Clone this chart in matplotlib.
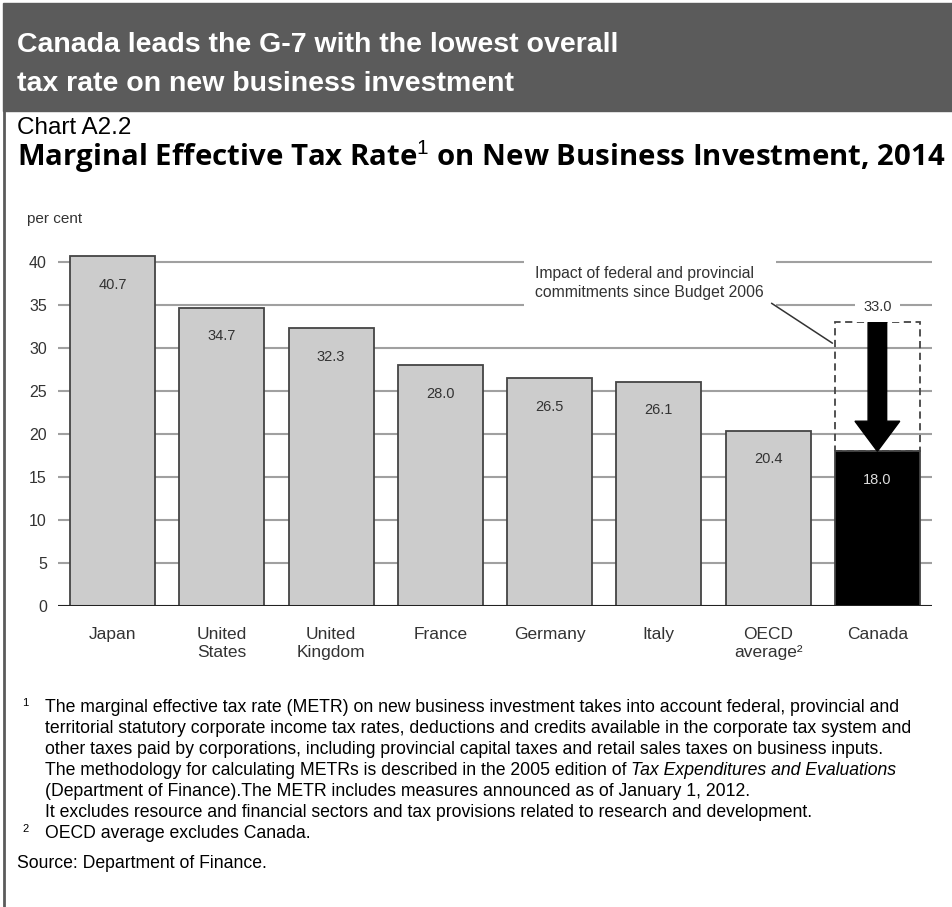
import matplotlib
matplotlib.use('Agg')
import matplotlib.pyplot as plt
from matplotlib.patches import Rectangle

# data
countries = ['Japan', 'United\nStates', 'United\nKingdom', 'France', 'Germany',
             'Italy', 'OECD\naverage\u00b2', 'Canada']
metr = [40.7, 34.7, 32.3, 28.0, 26.5, 26.1, 20.4, 18.0]
canada_2006 = 33.0
yticks = [0, 5, 10, 15, 20, 25, 30, 35, 40]

footnote_1 = [
    'The marginal effective tax rate (METR) on new business investment takes into account federal, provincial and',
    'territorial statutory corporate income tax rates, deductions and credits available in the corporate tax system and',
    'other taxes paid by corporations, including provincial capital taxes and retail sales taxes on business inputs.',
    'The methodology for calculating METRs is described in the 2005 edition of ',
    '(Department of Finance).The METR includes measures announced as of January 1, 2012.',
    'It excludes resource and financial sectors and tax provisions related to research and development.',
]
footnote_1_italic = 'Tax Expenditures and Evaluations'
footnote_2 = 'OECD average excludes Canada.'
source = 'Source: Department of Finance.'

plt.rcParams['font.family'] = ['Liberation Sans', 'DejaVu Sans']
plt.rcParams['mathtext.fontset'] = 'custom'
plt.rcParams['mathtext.rm'] = 'Liberation Sans'

W, H = 953, 907
NARROW = ['Liberation Sans Narrow', 'Liberation Sans']


def fy(y):  # pixel row from top -> figure fraction
    return 1 - y / H


fig = plt.figure(figsize=(W / 100, H / 100), dpi=100)

# header band + left rule
fig.patches.append(Rectangle((3 / W, fy(111)), 950 / W, 108 / H,
                             transform=fig.transFigure, color='#5b5b5b', zorder=0))
fig.add_artist(plt.Line2D([4 / W, 4 / W], [0, fy(111)], transform=fig.transFigure,
                          color='#5b5b5b', lw=2))

fig.text(17 / W, fy(45), 'Canada leads the G-7 with the lowest overall',
         color='white', fontsize=20.5, weight='bold', family=NARROW, va='center')
fig.text(17 / W, fy(84), 'tax rate on new business investment',
         color='white', fontsize=20.5, weight='bold', family=NARROW, va='center')

fig.text(17 / W, fy(128), 'Chart A2.2', fontsize=17.5, va='center')
fig.text(17 / W, fy(157), r'Marginal Effective Tax Rate$^{1}$ on New Business Investment, 2014',
         fontsize=21.2, weight='bold', family=['Open Sans', 'DejaVu Sans'], va='center')
fig.text(27 / W, fy(219), 'per cent', fontsize=11, color='#333333', va='center')

ax = fig.add_axes([58 / W, fy(606), (932 - 58) / W, (606 - 245) / H])
x = list(range(len(countries)))
bw = 0.78
colors = ['#cccccc'] * (len(metr) - 1) + ['black']
ax.bar(x, metr, width=bw, color=colors, edgecolor='#444444', lw=1.3, zorder=2)

for i, v in enumerate(metr):
    ax.annotate(f'{v:.1f}', (i, v), xytext=(0, -20.5), textcoords='offset points',
                ha='center', va='center', fontsize=10.5,
                color='#dddddd' if i == len(metr) - 1 else '#333333', zorder=4)

# Canada: level before Budget 2006 and the arrow down to today
ci = len(metr) - 1
ax.bar(ci, canada_2006 - metr[ci], bottom=metr[ci], width=bw, fill=False,
       edgecolor='#444444', lw=1.3, linestyle=(0, (4, 2.5)), zorder=2)
ax.arrow(ci, canada_2006, 0, metr[ci] - canada_2006, width=0.17, head_width=0.41,
         head_length=3.5, length_includes_head=True, color='black', zorder=3)
ax.text(ci, 34.8, f'{canada_2006:.1f}', ha='center', va='center', fontsize=10.5, color='#333333',
        bbox=dict(boxstyle='square,pad=0.55', fc='white', ec='none'), zorder=3)

ax.text(3.87, 37.6, 'Impact of federal and provincial\ncommitments since Budget 2006',
        ha='left', va='center', fontsize=11.3, color='#333333', linespacing=1.3,
        bbox=dict(boxstyle='square,pad=0.75', fc='white', ec='none'), zorder=3)
ax.annotate('', xy=(ci - bw / 2, 30.4), xytext=(6.01, 35.4),
            arrowprops=dict(arrowstyle='-', color='#333333', lw=1.1), zorder=3)

ax.set_xlim(-0.5, len(countries) - 0.5)
ax.set_ylim(0, 42)
ax.set_yticks(yticks)
ax.yaxis.grid(True, color='#a0a0a0', lw=1.5)
ax.set_axisbelow(True)
ax.axhline(0, color='#222222', lw=2.2, zorder=5)
for s in ax.spines.values():
    s.set_visible(False)
ax.set_xticks(x)
ax.set_xticklabels(countries, fontsize=12.5, color='#333333', linespacing=1.25)
ax.tick_params(axis='x', length=0, pad=15)
ax.tick_params(axis='y', length=0, pad=8, labelsize=11.5, labelcolor='#333333')

# footnotes, placed on baselines so the rows are evenly spaced
fs = 12.7
base = 712
step = 21
for k, line in enumerate(footnote_1):
    t = fig.text(45 / W, fy(base + step * k), line, fontsize=fs, family=NARROW, va='baseline')
    if k == 3:
        fig.canvas.draw()
        bb = t.get_window_extent()
        fig.text(bb.x1 / W, fy(base + step * k), footnote_1_italic, fontsize=fs,
                 family=NARROW, style='italic', va='baseline')
fig.text(22 / W, fy(base - 6), '1', fontsize=8, family=NARROW, va='baseline')
fig.text(22 / W, fy(base + step * 6 - 6), '2', fontsize=8, family=NARROW, va='baseline')
fig.text(45 / W, fy(base + step * 6), footnote_2, fontsize=fs, family=NARROW, va='baseline')
fig.text(17 / W, fy(base + step * 6 + 30), source, fontsize=fs, family=NARROW, va='baseline')

fig.savefig('out.png', dpi=100)
